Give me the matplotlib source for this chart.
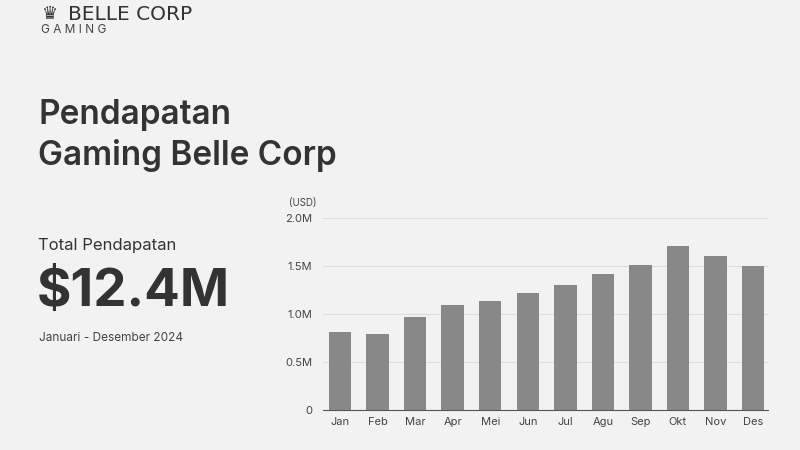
import matplotlib
matplotlib.use("Agg")
import matplotlib.pyplot as plt
from matplotlib.ticker import FixedLocator

months = ["Jan","Feb","Mar","Apr","Mei","Jun","Jul","Agu","Sep","Okt","Nov","Des"]
revenue = [0.81,0.79,0.97,1.09,1.13,1.22,1.30,1.42,1.51,1.71,1.60,1.50]
yticks = [0,0.5,1.0,1.5,2.0]
ylabels = ["0","0.5M","1.0M","1.5M","2.0M"]

plt.rcParams['font.family'] = ['Inter','DejaVu Sans']
bg = "#f2f2f2"
fig = plt.figure(figsize=(8,4.5), dpi=100, facecolor=bg)

fig.text(0.051, 0.968, "♛", fontsize=13, color="#333333", va="center", ha="left", family=['DejaVu Sans'])
fig.text(0.085, 0.968, "BELLE CORP", fontsize=14.5, color="#333333", va="center", ha="left", family=['DejaVu Sans'])
fig.text(0.051, 0.934, "G A M I N G", fontsize=8.5, color="#444444", va="center", ha="left")

fig.text(0.048, 0.745, "Pendapatan", fontsize=24, color="#333333", va="center", fontweight="semibold")
fig.text(0.048, 0.655, "Gaming Belle Corp", fontsize=24, color="#333333", va="center", fontweight="semibold")
fig.text(0.048, 0.455, "Total Pendapatan", fontsize=12, color="#333333", va="center")
fig.text(0.046, 0.35, "$12.4M", fontsize=38, color="#333333", va="center", fontweight="bold")
fig.text(0.049, 0.248, "Januari - Desember 2024", fontsize=8.5, color="#444444", va="center")

ax = fig.add_axes([0.404, 0.089, 0.556, 0.427])
ax.set_facecolor(bg)
x = range(len(months))
ax.bar(x, revenue, width=0.6, color="#888888", zorder=3)
ax.set_xlim(-0.45, 11.4)
ax.set_ylim(0, 2.0)
ax.yaxis.set_major_locator(FixedLocator(yticks))
ax.set_yticklabels(ylabels)
ax.set_xticks(list(x))
ax.set_xticklabels(months)
ax.grid(axis="y", color="#dddddd", linewidth=0.8, zorder=0)
for s in ["top","right","left"]:
    ax.spines[s].set_visible(False)
ax.spines["bottom"].set_color("#555555")
ax.tick_params(axis="both", length=0, colors="#444444", labelsize=8)
ax.tick_params(axis="y", pad=8)
ax.tick_params(axis="x", pad=5)
fig.text(0.361, 0.549, "(USD)", fontsize=7, color="#444444", va="center")

fig.savefig("out.png", facecolor=bg)
